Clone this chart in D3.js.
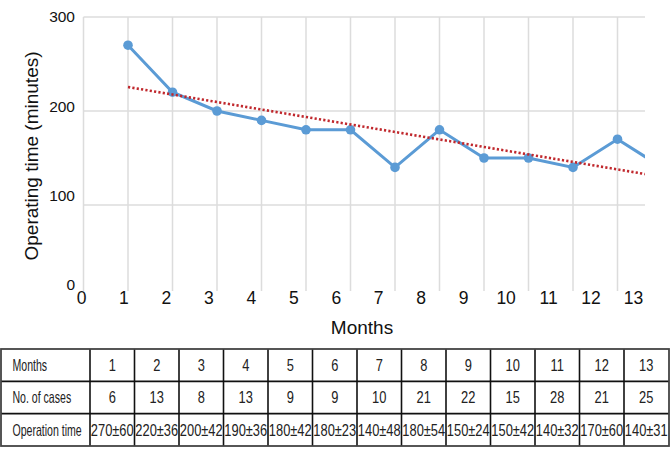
<!DOCTYPE html>
<html>
<head>
<meta charset="utf-8">
<script src="https://cdn.jsdelivr.net/npm/d3@7"></script>
<style>
  body { margin: 0; background: #fff; }
  svg { display: block; font-family: "Liberation Sans", Arial, sans-serif; }
  .tbl text { font-family: "Liberation Sans", Arial, sans-serif; fill: #222; }
</style>
</head>
<body>
<div id="view"></div>
<script>
var width = 670, height = 459;

// data
var months = [1, 2, 3, 4, 5, 6, 7, 8, 9, 10, 11, 12, 13];
var opTime = [270, 220, 200, 190, 180, 180, 140, 180, 150, 150, 140, 170, 140];
var opSD = [60, 36, 42, 36, 42, 23, 48, 54, 24, 42, 32, 60, 31];
var cases = [6, 13, 8, 13, 9, 9, 10, 21, 22, 15, 28, 21, 25];
var xTicks = [0, 1, 2, 3, 4, 5, 6, 7, 8, 9, 10, 11, 12, 13];
var yTicks = [0, 100, 200, 300];
var rowNames = ["Months", "No. of cases", "Operation time"];

var plotLeft = 83.5, plotRight = 645, plotTop = 17, gridBottom = 291;

var svg = d3.select("#view").append("svg")
	.attr("width", width)
	.attr("height", height);

var x = d3.scaleLinear().domain([0, 13]).range([plotLeft, plotLeft + 13 * 44.5]);
var y = d3.scaleLinear().domain([0, 300]).range([299, plotTop]);
// tick labels in the picture sit a bit off the grid
var xLab = d3.scaleLinear().domain([0, 13]).range([81, 633]);
var yLab = d3.scaleLinear().domain([0, 300]).range([285, 17]);

svg.append("defs").append("clipPath").attr("id", "clip")
	.append("rect")
	.attr("x", plotLeft - 10).attr("y", 0)
	.attr("width", plotRight - plotLeft + 10).attr("height", 300);

// grid
var grid = svg.append("g").attr("stroke", "#dcdcdc").attr("stroke-width", 1.5);
grid.selectAll(".hg")
	.data(yTicks.filter(function(d) { return d > 0; })).enter()
	.append("line")
	.attr("x1", plotLeft).attr("x2", plotRight)
	.attr("y1", function(d) { return y(d); })
	.attr("y2", function(d) { return y(d); });
grid.selectAll(".vg")
	.data(xTicks.filter(function(d) { return x(d) < plotRight; })).enter()
	.append("line")
	.attr("x1", function(d) { return x(d); })
	.attr("x2", function(d) { return x(d); })
	.attr("y1", plotTop).attr("y2", gridBottom);

// axis labels
var yAxis = svg.append("g")
	.attr("transform", "translate(75,0)")
	.call(d3.axisLeft(yLab).tickValues(yTicks).tickSize(0).tickPadding(0));
yAxis.select(".domain").remove();
yAxis.selectAll("text").attr("font-size", 15.5).attr("fill", "#111").attr("font-family", null);

var xAxis = svg.append("g")
	.attr("transform", "translate(0,292)")
	.call(d3.axisBottom(xLab).tickValues(xTicks).tickSize(0).tickPadding(0));
xAxis.select(".domain").remove();
xAxis.selectAll("text").attr("font-size", 17.5).attr("fill", "#111").attr("font-family", null);

svg.append("text")
	.attr("x", 362).attr("y", 334)
	.attr("text-anchor", "middle")
	.attr("font-size", 19).attr("fill", "#111")
	.text("Months");

svg.append("text")
	.attr("transform", "translate(38,156) rotate(-90)")
	.attr("text-anchor", "middle")
	.attr("font-size", 19).attr("fill", "#111")
	.text("Operating time (minutes)");

// linear trend (least squares over the months)
var mx = d3.mean(months), my = d3.mean(opTime);
var slope = d3.sum(months, function(m, i) { return (m - mx) * (opTime[i] - my); }) /
	d3.sum(months, function(m) { return (m - mx) * (m - mx); });
var icpt = my - slope * mx;

var plot = svg.append("g").attr("clip-path", "url(#clip)");

var line = d3.line()
	.x(function(d, i) { return x(months[i]); })
	.y(function(d) { return y(d); });

plot.append("path")
	.datum(opTime)
	.attr("d", line)
	.attr("fill", "none")
	.attr("stroke", "#5b9bd5")
	.attr("stroke-width", 3);

plot.selectAll(".dot")
	.data(opTime).enter()
	.append("circle")
	.attr("cx", function(d, i) { return x(months[i]); })
	.attr("cy", function(d) { return y(d); })
	.attr("r", 4.8)
	.attr("fill", "#5b9bd5");

var trendEnds = [months[0], months[months.length - 1]];
plot.append("path")
	.datum(trendEnds)
	.attr("d", d3.line()
		.x(function(m) { return x(m); })
		.y(function(m) { return y(icpt + slope * m); }))
	.attr("fill", "none")
	.attr("stroke", "#c0282d")
	.attr("stroke-width", 2.6)
	.attr("stroke-dasharray", "2.2,2.2");

// table
var colX = d3.scaleLinear().domain([0, 13]).range([90, 90 + 13 * 44.5]);
var rowY = d3.scaleBand().domain(rowNames).range([349, 446]);
var cells = [
	months.map(String),
	cases.map(String),
	opTime.map(function(d, i) { return d + "±" + opSD[i]; })
];

var tbl = svg.append("g").attr("class", "tbl");
tbl.selectAll(".rl")
	.data(rowNames.slice(1)).enter()
	.append("line")
	.attr("x1", 1).attr("x2", 669)
	.attr("y1", function(d) { return rowY(d); })
	.attr("y2", function(d) { return rowY(d); })
	.attr("stroke", "#111").attr("stroke-width", 1.6);
tbl.selectAll(".cl")
	.data(d3.range(0, 13)).enter()
	.append("line")
	.attr("x1", function(d) { return colX(d); })
	.attr("x2", function(d) { return colX(d); })
	.attr("y1", 349).attr("y2", 446)
	.attr("stroke", "#111").attr("stroke-width", 1.6);
tbl.append("rect")
	.attr("x", 1).attr("y", 349).attr("width", 668).attr("height", 97)
	.attr("fill", "none").attr("stroke", "#444").attr("stroke-width", 1.8);

// the table uses a condensed face: squeeze the text horizontally
tbl.selectAll(".rh")
	.data(rowNames).enter()
	.append("text")
	.attr("transform", function(d) {
		return "translate(12.5," + (rowY(d) + rowY.bandwidth() / 2) + ") scale(0.64,1)";
	})
	.attr("dy", "0.36em")
	.attr("font-size", 16.5)
	.text(function(d) { return d; });

rowNames.forEach(function(r, ri) {
	tbl.selectAll(".c" + ri)
		.data(cells[ri]).enter()
		.append("text")
		.attr("transform", function(d, i) {
			return "translate(" + (colX(i) + 44.5 / 2) + "," + (rowY(r) + rowY.bandwidth() / 2) + ") scale(0.78,1)";
		})
		.attr("dy", "0.36em")
		.attr("text-anchor", "middle")
		.attr("font-size", 16.5)
		.text(function(d) { return d; });
});
</script>
</body>
</html>
